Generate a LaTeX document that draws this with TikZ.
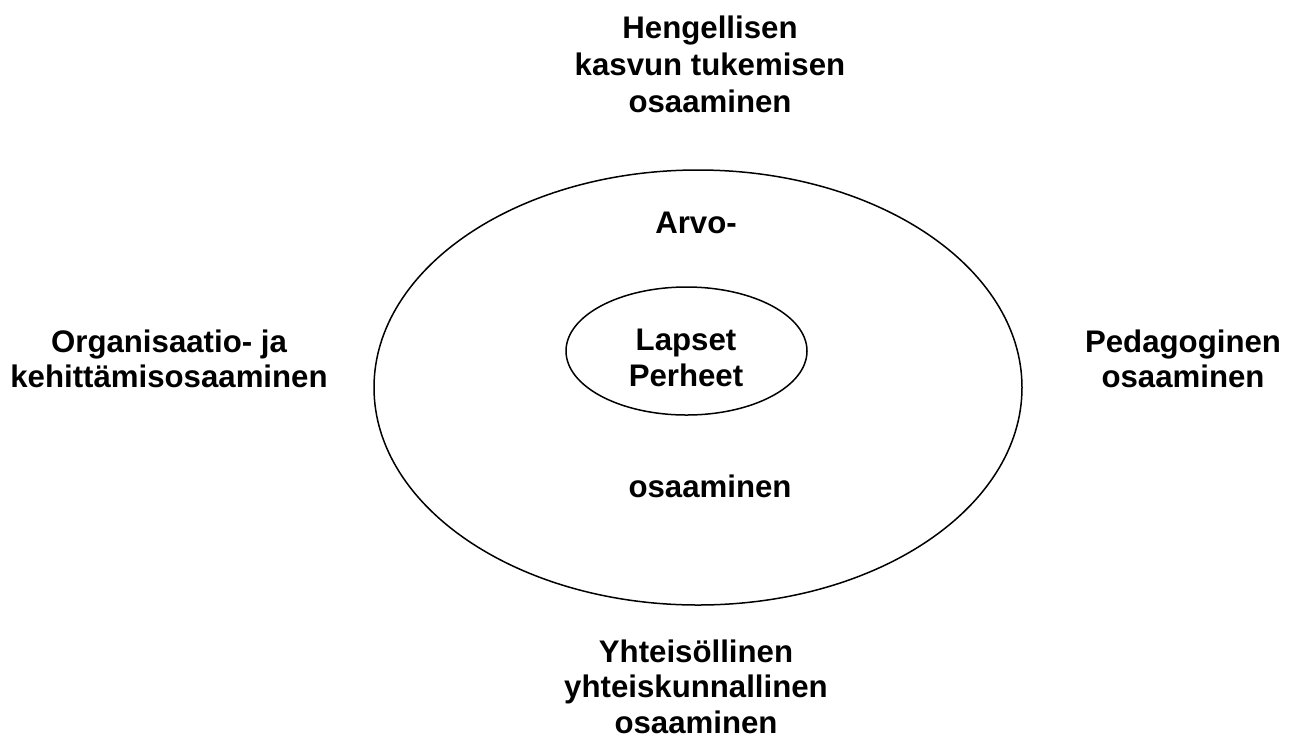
\documentclass[tikz,border=0pt]{standalone}
\usepackage{fontspec}
\setmainfont{Liberation Sans}
\usetikzlibrary{shapes.geometric}
\begin{document}
\begin{tikzpicture}[x=1pt,y=-1pt,
  lbl/.style={font=\fontsize{31.2}{36}\selectfont\bfseries, align=center, inner sep=0pt, anchor=base},
  ring/.style={draw=black, line width=1.5pt, ellipse, inner sep=0pt}]
\useasboundingbox (0,0) rectangle (1290,740);
\node[ring, minimum width=648pt, minimum height=435pt] (outer) at (698,387.5) {};
\node[ring, minimum width=241pt, minimum height=128pt] (inner) at (686.5,351) {};
\node[lbl, font=\fontsize{31.2}{37}\selectfont\bfseries] (top) at (710,112) {Hengellisen\\kasvun tukemisen\\osaaminen};
\node[lbl, font=\fontsize{31.2}{35}\selectfont\bfseries] (left) at (169,387) {Organisaatio- ja\\kehittämisosaaminen};
\node[lbl, font=\fontsize{31.2}{35}\selectfont\bfseries] (right) at (1183,387) {Pedagoginen\\osaaminen};
\node[lbl, font=\fontsize{31.2}{35.5}\selectfont\bfseries] (bottom) at (696,733) {Yhteisöllinen\\yhteiskunnallinen\\osaaminen};
\node[lbl] (arvo) at (696,233) {Arvo-};
\node[lbl] (osa) at (710,497) {osaaminen};
\node[lbl, font=\fontsize{31.2}{36}\selectfont\bfseries] (lap) at (686,386) {Lapset\\Perheet};
\end{tikzpicture}
\end{document}
